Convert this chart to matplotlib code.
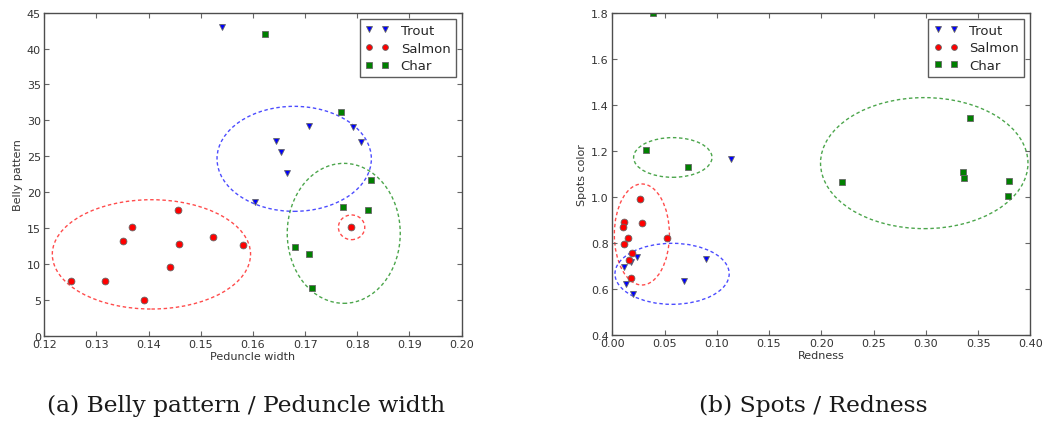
import matplotlib
matplotlib.use('Agg')
import matplotlib.pyplot as plt
from matplotlib.patches import Ellipse
import numpy as np

# (a) belly pattern vs peduncle width
trout_pw = [0.1541, 0.1645, 0.1653, 0.1666, 0.1708, 0.1792, 0.1807, 0.1603]
trout_bp = [43.05, 27.17, 25.59, 22.71, 29.26, 29.03, 26.94, 18.58]
salmon_pw = [0.1252, 0.1316, 0.1351, 0.1369, 0.1392, 0.1441, 0.1456, 0.1459, 0.1523, 0.1581, 0.1788]
salmon_bp = [7.66, 7.62, 13.24, 15.10, 5.02, 9.52, 17.56, 12.77, 13.70, 12.59, 15.10]
char_pw = [0.1623, 0.1769, 0.1773, 0.1826, 0.1821, 0.1681, 0.1708, 0.1714]
char_bp = [42.03, 31.12, 17.93, 21.69, 17.46, 12.40, 11.33, 6.60]

# (b) spots color vs redness
trout_red = [0.0239, 0.0179, 0.0112, 0.0131, 0.0201, 0.0689, 0.0899, 0.1138]
trout_spot = [0.7374, 0.718, 0.694, 0.6214, 0.5767, 0.6345, 0.7315, 1.163]
salmon_red = [0.0268, 0.0112, 0.0100, 0.0281, 0.0153, 0.0112, 0.0191, 0.0160, 0.0176, 0.0521]
salmon_spot = [0.9905, 0.892, 0.8677, 0.8863, 0.820, 0.795, 0.756, 0.7257, 0.646, 0.8225]
char_red = [0.0385, 0.0327, 0.0721, 0.2199, 0.336, 0.3366, 0.3424, 0.3793, 0.379]
char_spot = [1.797, 1.2035, 1.128, 1.0645, 1.108, 1.0834, 1.3425, 1.070, 1.0023]

# cluster ellipses: (cx, cy, width, height, colour)
ell_a = [(0.1679, 24.64, 0.02958, 14.63, 'b'),
         (0.14054, 11.33, 0.0380, 15.23, 'r'),
         (0.1789, 15.1, 0.00505, 3.44, 'r'),
         (0.1774, 14.26, 0.02166, 19.5, 'g')]
ell_b = [(0.0579, 1.171, 0.0750, 0.1723, 'g'),
         (0.2985, 1.1464, 0.1985, 0.569, 'g'),
         (0.0283, 0.8365, 0.0527, 0.4387, 'r'),
         (0.0572, 0.6657, 0.1093, 0.265, 'b')]

plt.rcParams['font.family'] = 'DejaVu Sans'
plt.rcParams['font.size'] = 8

fig = plt.figure(figsize=(10.49, 4.31), dpi=100)
ax1 = fig.add_axes([0.0422, 0.2188, 0.3979, 0.7494])
ax2 = fig.add_axes([0.5837, 0.2204, 0.3985, 0.748])

def draw(ax, series, ells, xlab, ylab):
    for xs, ys, m, c, lab in series:
        ax.plot(xs, ys, m, color=c, ms=4.9, mec='0.4', mew=0.6, label=lab, linestyle='none')
    for cx, cy, w, h, c in ells:
        ax.add_patch(Ellipse((cx, cy), w, h, fill=False, edgecolor=c, alpha=0.7,
                             lw=1.0, linestyle=(0, (2.5, 1.9))))
    ax.set_xlabel(xlab, fontsize=8, color='0.2', labelpad=1)
    ax.set_ylabel(ylab, fontsize=8, color='0.2', labelpad=3)
    ax.tick_params(direction='in', top=True, right=True, length=3.5, width=0.8,
                   color='0.4', labelsize=8, labelcolor='0.2', pad=2.5)
    for s in ax.spines.values():
        s.set_color('0.3')
        s.set_linewidth(1.0)
    leg = ax.legend(loc='upper right', numpoints=2, fontsize=9.5, markerscale=0.85,
                    handlelength=1.8, handletextpad=0.9, borderpad=0.4,
                    labelspacing=0.35, borderaxespad=0.45, fancybox=False)
    leg.get_frame().set_edgecolor('0.2')
    leg.get_frame().set_linewidth(1.0)
    for t in leg.get_texts():
        t.set_color('0.15')

draw(ax1, [(trout_pw, trout_bp, 'v', 'b', 'Trout'),
           (salmon_pw, salmon_bp, 'o', 'r', 'Salmon'),
           (char_pw, char_bp, 's', 'g', 'Char')],
     ell_a, 'Peduncle width', 'Belly pattern')
ax1.set_xlim(0.12, 0.20)
ax1.set_ylim(0, 45)
ax1.set_xticks(np.arange(0.12, 0.2001, 0.01))
ax1.set_yticks(np.arange(0, 46, 5))

draw(ax2, [(trout_red, trout_spot, 'v', 'b', 'Trout'),
           (salmon_red, salmon_spot, 'o', 'r', 'Salmon'),
           (char_red, char_spot, 's', 'g', 'Char')],
     ell_b, 'Redness', 'Spots color')
ax2.set_xlim(0.0, 0.40)
ax2.set_ylim(0.4, 1.8)
ax2.set_xticks(np.arange(0.0, 0.4001, 0.05))
ax2.set_yticks(np.arange(0.4, 1.8001, 0.2))
ax2.xaxis.set_major_formatter(matplotlib.ticker.FormatStrFormatter('%.2f'))
ax2.yaxis.set_major_formatter(matplotlib.ticker.FormatStrFormatter('%.1f'))
ax1.xaxis.set_major_formatter(matplotlib.ticker.FormatStrFormatter('%.2f'))

fig.text(0.2345, 19 / 431, '(a) Belly pattern / Peduncle width', ha='center', va='baseline',
         fontsize=16.8, family='DejaVu Serif', color='0.1')
fig.text(0.775, 19 / 431, '(b) Spots / Redness', ha='center', va='baseline',
         fontsize=16.8, family='DejaVu Serif', color='0.1')

fig.savefig('out.png', dpi=100)
